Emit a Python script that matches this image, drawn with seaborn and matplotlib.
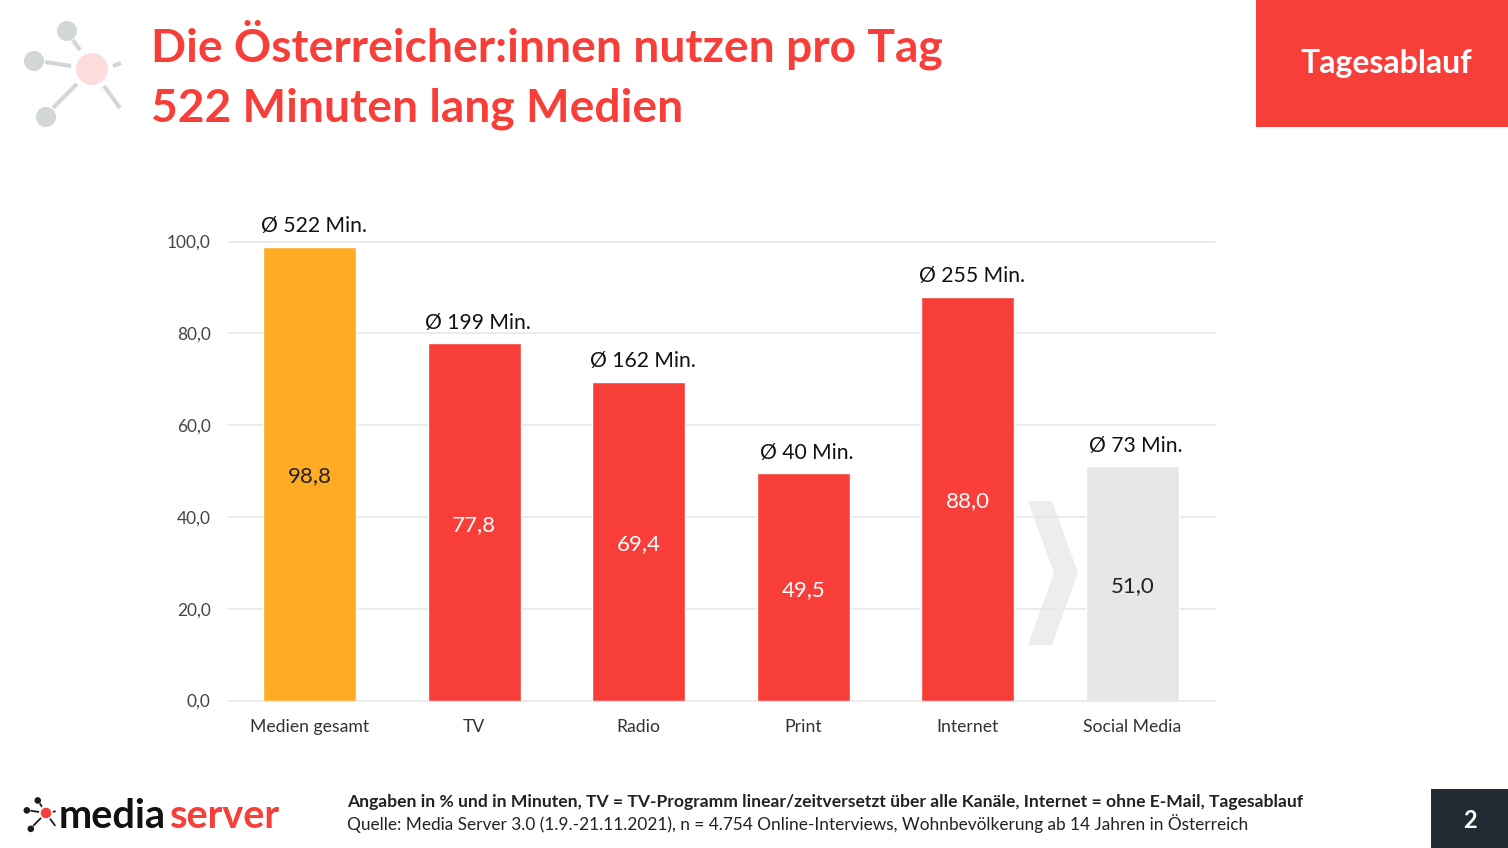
#!/usr/bin/env python
# -*- coding: utf-8 -*-
# Media Server Tagesablauf bar chart

#%% Import libraries
import pandas as pd
import matplotlib.pyplot as plt
from matplotlib.patches import Circle, Polygon, Rectangle
import seaborn as sns

#%% Data
categories = ['Medien gesamt', 'TV', 'Radio', 'Print', 'Internet', 'Social Media']
reach_values = [98.8, 77.8, 69.4, 49.5, 88.0, 51.0]
minutes = [522, 199, 162, 40, 255, 73]
y_ticks = [0, 20, 40, 60, 80, 100]

title_lines = ['Die Österreicher:innen nutzen pro Tag', '522 Minuten lang Medien']
note_bold = ('Angaben in % und in Minuten, TV = TV-Programm linear/zeitversetzt '
             'über alle Kanäle, Internet = ohne E-Mail, Tagesablauf')
note_source = ('Quelle: Media Server 3.0 (1.9.-21.11.2021), n = 4.754 Online-Interviews, '
               'Wohnbevölkerung ab 14 Jahren in Österreich')

#%% Colors
red = '#F73E38'
orange = '#FFAB24'
light_gray = '#E7E7E7'
dark = '#222B33'
bar_colors = [orange, red, red, red, red, light_gray]
value_colors = ['#222222', 'white', 'white', 'white', 'white', '#222222']

sns.set_style('white')
plt.rcParams['font.family'] = ['Lato', 'DejaVu Sans']

df = pd.DataFrame({'category': categories, 'value': reach_values})

fig = plt.figure(figsize=(15.08, 8.48), dpi=100)

#%% Overlay in pixel coordinates for header, logo, footer
bg = fig.add_axes([0, 0, 1, 1])
bg.set_xlim(0, 1508)
bg.set_ylim(848, 0)
bg.axis('off')


def network_icon(ax, cx, cy, s, node, hub, lw):
    # small network logo: hub with three nodes and two loose strokes
    for x0, y0, x1, y1 in [(-19, -29, -12, -19), (-47, -7, -21, -3), (-15, 15, -39, 39),
                           (12, 17, 28, 39), (21, -3, 29, -6)]:
        ax.plot([cx + x0 * s, cx + x1 * s], [cy + y0 * s, cy + y1 * s],
                color=node, lw=lw, solid_capstyle='butt')
    for x0, y0, r in [(-25, -38, 10), (-58, -8, 10), (-46, 48, 10)]:
        ax.add_patch(Circle((cx + x0 * s, cy + y0 * s), r * s, color=node, lw=0))
    ax.add_patch(Circle((cx, cy), 16 * s, color=hub, lw=0))


network_icon(bg, 92, 69, 1.0, '#D3D6D6', '#FCDDDB', 3)

for line_text, y in zip(title_lines, [62, 122]):
    bg.text(151, y, line_text, color=red, fontsize=33.2, fontweight='bold',
            ha='left', va='baseline')

bg.add_patch(Rectangle((1256, 0), 252, 127, color=red, lw=0))
bg.text(1386, 64, 'Tagesablauf', color='white', fontsize=23, fontweight='bold',
        ha='center', va='center')

# chevron behind the chart
bg.add_patch(Polygon([(1028, 501), (1052, 501), (1078, 573), (1052, 645), (1028, 645),
                      (1054, 573)], closed=True, color='#EDEDED', lw=0))

network_icon(bg, 46, 813, 0.33, '#1A1A1A', red, 1.3)
bg.text(59, 828, 'media', color='#111111', fontsize=28.5, fontweight='bold',
        ha='left', va='baseline')
bg.text(170, 828, 'server', color=red, fontsize=28.5, fontweight='bold',
        ha='left', va='baseline')

bg.text(347, 802, note_bold, color='#222222', fontsize=12.6, fontweight='bold',
        ha='left', va='center')
bg.text(347, 824, note_source, color='#222222', fontsize=12.39, ha='left', va='center')

bg.add_patch(Rectangle((1431, 789), 77, 59, color=dark, lw=0))
bg.text(1469.5, 821, '2', color='white', fontsize=17, fontweight='bold',
        ha='center', va='center')

#%% Chart axes
ax = fig.add_axes([227.5 / 1508, (848 - 700.5) / 848, 987 / 1508, 459 / 848])
ax.patch.set_alpha(0)
sns.barplot(data=df, x='category', y='value', hue='category', palette=bar_colors,
            order=categories, hue_order=categories, legend=False, width=0.565,
            saturation=1, ax=ax)
ax.set_xlim(-0.5, 5.5)
ax.set_ylim(0, 100)
ax.set_xlabel('')
ax.set_ylabel('')
ax.set_yticks(y_ticks)
ax.set_yticklabels([f'{t:.1f}'.replace('.', ',') for t in y_ticks])
ax.tick_params(axis='both', length=0, labelcolor='#444444')
ax.tick_params(axis='x', pad=13, labelcolor='#333333', labelsize=12.7)
ax.tick_params(axis='y', pad=12, labelsize=12.4)
ax.grid(axis='y', color='#E8E8E8', lw=1.2)
ax.set_axisbelow(True)
sns.despine(ax=ax, left=True, top=True, right=True, bottom=True)
for gl in ax.get_ygridlines():
    gl.set_clip_on(False)

# Labels inside the bars and above them
for i, (val, mins) in enumerate(zip(reach_values, minutes)):
    ax.annotate(f'{val:.1f}'.replace('.', ','), xy=(i, val / 2), xytext=(0, -2),
                textcoords='offset points', color=value_colors[i],
                fontsize=16, ha='center', va='center')
    ax.annotate(f'Ø {mins} Min.', xy=(i, val), xytext=(2.8, 14.8), textcoords='offset points',
                color='#111111', fontsize=15.2, ha='center', va='center',
                annotation_clip=False)

fig.savefig('out.png', dpi=100)
